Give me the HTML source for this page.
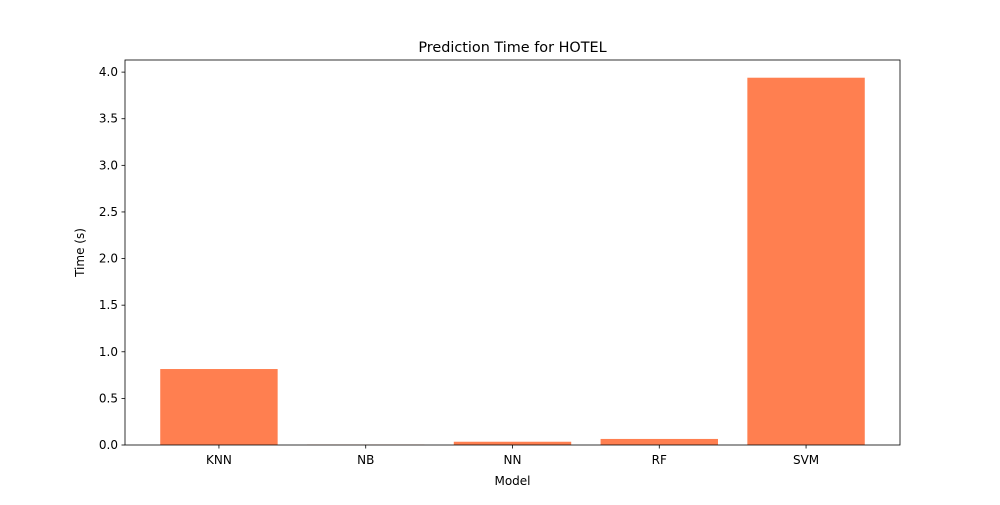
<!DOCTYPE html>
<html><head><meta charset="utf-8"><style>
body{margin:0;background:#fff;}
svg text{font-family:"DejaVu Sans","Liberation Sans",sans-serif;fill:#000;}
</style></head><body>
<svg id="chart" width="1000" height="500"></svg>
<script>
const categories=["KNN","NB","NN","RF","SVM"];
const times=[0.815,0.003,0.035,0.065,3.94];
const yTicks=[0,0.5,1.0,1.5,2.0,2.5,3.0,3.5,4.0];
const tickLabels=["0.0","0.5","1.0","1.5","2.0","2.5","3.0","3.5","4.0"];
const L=125,R=900,T=60,B=445,yMax=4.13,xMin=-0.64,xMax=4.64;
const ns="http://www.w3.org/2000/svg";
const svg=document.getElementById('chart');
const y=v=>B-(v/yMax)*(B-T);
const x=i=>L+(i-xMin)/(xMax-xMin)*(R-L);
function mk(t,a,txt){const e=document.createElementNS(ns,t);for(const k in a)e.setAttribute(k,a[k]);if(txt!==undefined)e.textContent=txt;svg.appendChild(e);return e;}
const bw=0.8*(R-L)/(xMax-xMin);
categories.forEach((c,i)=>{
  const b=mk('rect',{x:x(i)-bw/2,y:y(times[i]),width:bw,height:B-y(times[i]),fill:'#ff7f50'});
  
  
  mk('line',{x1:x(i),x2:x(i),y1:B,y2:B+3.5,stroke:'#000','stroke-width':0.8});
  const t=mk('text',{x:x(i),y:B+19,'text-anchor':'middle','font-size':12},c);
  
  
});
yTicks.forEach((v,i)=>{
  mk('line',{x1:L-3.5,x2:L,y1:y(v),y2:y(v),stroke:'#000','stroke-width':0.8});
  const t=mk('text',{x:L-7,y:y(v)+4,'text-anchor':'end','font-size':12},tickLabels[i]);
  
  
});
const f=mk('rect',{x:L,y:T,width:R-L,height:B-T,fill:'none',stroke:'#000','stroke-width':0.8});


const ti=mk('text',{x:(L+R)/2,y:T-8,'text-anchor':'middle','font-size':14.4},'Prediction Time for HOTEL');


const xl=mk('text',{x:(L+R)/2,y:485,'text-anchor':'middle','font-size':12},'Model');


const yl=mk('text',{x:84,y:(T+B)/2,'text-anchor':'middle','font-size':12,transform:`rotate(-90 84 ${(T+B)/2})`},'Time (s)');


</script>
</body></html>
